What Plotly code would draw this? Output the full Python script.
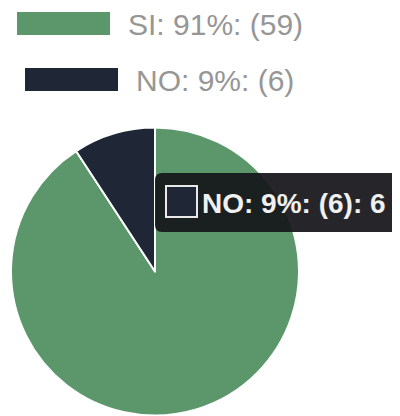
import plotly.graph_objects as go

# ---- data ----
labels = ["SI", "NO"]
values = [59, 6]
colors = ["#5b976b", "#1f2737"]
tooltip_index = 1

# page body has an 8px margin; the figure is sized to fill the rest of the window
OFF = 8
W, H = 400 - OFF, 416 - OFF
total = sum(values)
legend_texts = [f"{l}: {round(v / total * 100)}%: ({v})" for l, v in zip(labels, values)]
tooltip_text = f"{legend_texts[tooltip_index]}: {values[tooltip_index]}"


def px(x):
    return (x - OFF) / W


def py(y):
    return 1 - (y - OFF) / H


fig = go.Figure(
    go.Pie(
        labels=labels,
        values=values,
        marker=dict(colors=colors, line=dict(color="white", width=2)),
        sort=False,
        direction="clockwise",
        rotation=0,
        textinfo="none",
        hoverinfo="skip",
        showlegend=False,
        domain=dict(x=[px(11), px(299)], y=[0, py(127)]),
    )
)

shapes = []
annotations = []

# custom legend (wide swatches, centered rows)
legend_rows_y = [23.5, 79.5]
legend_bar_x = [17, 25]
bar_w, bar_h = 93, 23
for i, txt in enumerate(legend_texts):
    x0 = legend_bar_x[i]
    yc = legend_rows_y[i]
    shapes.append(dict(type="rect", xref="paper", yref="paper",
                       x0=px(x0), x1=px(x0 + bar_w), y0=py(yc - bar_h / 2), y1=py(yc + bar_h / 2),
                       fillcolor=colors[i], line=dict(width=0)))
    annotations.append(dict(text=txt, xref="paper", yref="paper", x=px(x0 + bar_w + 16), y=py(yc + 1),
                            xanchor="left", yanchor="middle", showarrow=False,
                            font=dict(family="Liberation Sans, Arial", size=30, color="#969696")))

# tooltip box with rounded corners
bx0, bx1, by0, by1, r = 155, 398, 173, 232, 7
path = (f"M {px(bx0 + r)},{py(by0)} L {px(bx1 - r)},{py(by0)} "
        f"Q {px(bx1)},{py(by0)} {px(bx1)},{py(by0 + r)} L {px(bx1)},{py(by1 - r)} "
        f"Q {px(bx1)},{py(by1)} {px(bx1 - r)},{py(by1)} L {px(bx0 + r)},{py(by1)} "
        f"Q {px(bx0)},{py(by1)} {px(bx0)},{py(by1 - r)} L {px(bx0)},{py(by0 + r)} "
        f"Q {px(bx0)},{py(by0)} {px(bx0 + r)},{py(by0)} Z")
shapes.append(dict(type="path", xref="paper", yref="paper", path=path,
                   fillcolor="rgba(22,22,26,0.93)", line=dict(width=0)))
shapes.append(dict(type="rect", xref="paper", yref="paper",
                   x0=px(166), x1=px(197), y0=py(186), y1=py(217),
                   fillcolor=colors[tooltip_index], line=dict(color="#e8e8e8", width=2)))
annotations.append(dict(text=f"<b>{tooltip_text}</b>", xref="paper", yref="paper",
                        x=px(200), y=py(203), xanchor="left", yanchor="middle", showarrow=False,
                        font=dict(family="Liberation Sans, Arial", size=28, color="#f0f0f0")))

fig.update_layout(
    width=W, height=H,
    margin=dict(l=0, r=0, t=0, b=0),
    paper_bgcolor="white", plot_bgcolor="white",
    shapes=shapes, annotations=annotations,
    showlegend=False,
)

fig.write_html("out.html")
